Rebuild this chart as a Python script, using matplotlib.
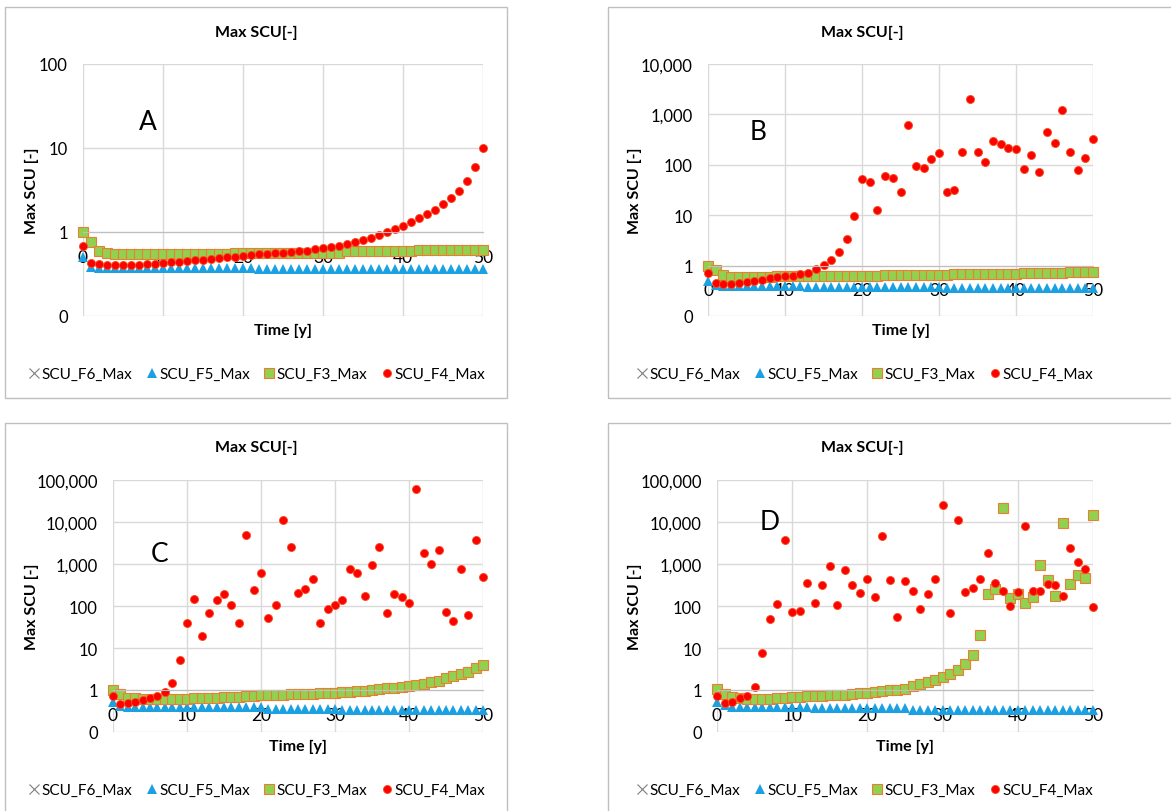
import matplotlib.pyplot as plt
from matplotlib.patches import Rectangle

plt.rcParams['font.family'] = ['Lato', 'DejaVu Sans']

W, H = 1171, 812
years = list(range(51))

# --- panel A ---
f5_a = [0.5, 0.38] + [0.37] * 20 + [0.365] * 21 + [0.36] * 8
f3_a = [1.0, 0.76, 0.59, 0.56] + [0.55] * 15 + [0.57] * 14 + [0.59] * 9 + [0.61] * 9
f4_a = [0.68, 0.43, 0.42, 0.41, 0.41, 0.41, 0.41, 0.41, 0.42, 0.42,
        0.43, 0.44, 0.44, 0.45, 0.46, 0.47, 0.48, 0.49, 0.50, 0.51,
        0.52, 0.53, 0.54, 0.55, 0.56, 0.57, 0.58, 0.59, 0.60, 0.62,
        0.64, 0.66, 0.69, 0.72, 0.76, 0.80, 0.86, 0.92, 1.0, 1.08,
        1.17, 1.3, 1.45, 1.62, 1.85, 2.15, 2.55, 3.1, 4.0, 5.9, 10.0]

# --- panel B ---
f5_b = [0.5, 0.41] + [0.39] * 11 + [0.37] * 18 + [0.355] * 20
f3_b = [1.0, 0.83, 0.65, 0.6, 0.6, 0.6, 0.6, 0.6, 0.6, 0.61,
        0.61, 0.61, 0.61, 0.62, 0.62, 0.62, 0.62, 0.62, 0.63, 0.63,
        0.63, 0.63, 0.63, 0.64, 0.64, 0.64, 0.65, 0.65, 0.65, 0.66,
        0.66, 0.66, 0.67, 0.67, 0.67, 0.68, 0.68, 0.68, 0.69, 0.69,
        0.69, 0.70, 0.70, 0.71, 0.71, 0.72, 0.72, 0.73, 0.73, 0.74, 0.75]
f4_b = [0.71, 0.45, 0.43, 0.43, 0.45, 0.47, 0.49, 0.52, 0.56, 0.59,
        0.61, 0.63, 0.67, 0.71, 0.86, 1.05, 1.3, 1.9, 3.3, 9.8,
        52, 45, 12.6, 60, 54, 29.5, 624, 93, 88, 130,
        170, 29, 32, 181, 2017, 178, 113, 290, 253, 213,
        204, 83, 153, 73, 453, 265, 1236, 181, 78, 138, 323]

# --- panel C ---
f5_c = [0.51, 0.42] + [0.39] * 19 + [0.36] * 10 + [0.33] * 20
f3_c = [1.0, 0.79, 0.66, 0.63, 0.6, 0.6, 0.6, 0.6, 0.61, 0.61,
        0.62, 0.63, 0.64, 0.65, 0.66, 0.67, 0.69, 0.70, 0.72, 0.73,
        0.75, 0.76, 0.77, 0.78, 0.79, 0.80, 0.81, 0.82, 0.83, 0.85,
        0.87, 0.89, 0.91, 0.94, 0.97, 1.0, 1.04, 1.09, 1.14, 1.2,
        1.27, 1.33, 1.4, 1.52, 1.67, 1.9, 2.15, 2.45, 2.75, 3.3, 3.95]
f4_c = [0.73, 0.46, 0.5, 0.51, 0.57, 0.63, 0.71, 0.91, 1.44, 5.3,
        40, 144, 19.3, 67, 139, 193, 106, 40, 4900, 240,
        600, 51, 106, 10960, 2540, 208, 254, 432, 38.6, 86,
        106, 141, 760, 620, 172, 930, 2580, 68, 196, 163,
        120, 60000, 1790, 980, 2190, 73, 45, 760, 62, 3650, 480]

# --- panel D ---
f5_d = [0.53, 0.44] + [0.4] * 11 + [0.37] * 13 + [0.33] * 25
f3_d = [1.05, 0.82, 0.68, 0.66, 0.61, 0.61, 0.61, 0.61, 0.63, 0.66,
        0.69, 0.70, 0.71, 0.72, 0.73, 0.74, 0.75, 0.78, 0.82, 0.85,
        0.86, 0.88, 0.96, 1.0, 1.02, 1.07, 1.25, 1.36, 1.52, 1.76,
        2.08, 2.36, 2.94, 4.08, 6.7, 20, 193, 254, 21000, 152,
        194, 116, 167, 930, 405, 176, 9300, 328, 545, 463, 15000]
f4_d = [0.73, 0.48, 0.53, 0.63, 0.73, 1.2, 7.5, 48, 109, 3650,
        72, 76, 361, 118, 325, 895, 104, 720, 325, 208,
        432, 162, 4550, 414, 56, 400, 228, 85, 193, 438,
        25400, 67, 10960, 215, 268, 432, 1860, 360, 232, 100,
        219, 8030, 232, 223, 328, 316, 173, 2450, 1140, 760, 93]

yticks_4 = [0.1, 1, 10, 100]
yticks_6 = [0.1, 1, 10, 100, 1000, 10000]
yticks_7 = [0.1, 1, 10, 100, 1000, 10000, 100000]
ylabels_all = ['0', '1', '10', '100', '1,000', '10,000', '100,000']

series_names = ['SCU_F6_Max', 'SCU_F5_Max', 'SCU_F3_Max', 'SCU_F4_Max']

fig = plt.figure(figsize=(W / 100, H / 100), dpi=100)


def fx(x):
    return x / W


def fy(y):
    return 1 - y / H


def draw_panel(box, plot, f5, f3, f4, yticks, letter, letter_xy,
               title_xy, xlabel_xy, ylabel_x, legend_xy):
    # outer chart frame
    l, t, r, b = box
    fig.patches.append(Rectangle((fx(l), fy(b)), fx(r - l), (b - t) / H,
                                 transform=fig.transFigure, fill=False,
                                 edgecolor='#BFBFBF', linewidth=1.0))
    l, t, r, b = plot
    ax = fig.add_axes([fx(l), fy(b), fx(r - l), (b - t) / H])
    ax.set_yscale('log')
    ax.set_xlim(0, 50)
    ax.set_ylim(yticks[0], yticks[-1])

    h6, = ax.plot([], [], 'x', color='#7F7F7F', markersize=7, markeredgewidth=0.8)
    h5, = ax.plot(years, f5, '^', linestyle='none', color='#1BA1E2',
                  markersize=7, markeredgewidth=0, clip_on=False)
    h3, = ax.plot(years, f3, 's', linestyle='none', markerfacecolor='#92D050',
                  markeredgecolor='#ED7D31', markeredgewidth=0.8, markersize=7.5,
                  clip_on=False)
    h4, = ax.plot(years, f4, 'o', linestyle='none', markerfacecolor='#FF0000',
                  markeredgecolor='#F4511E', markeredgewidth=0.6, markersize=5.8,
                  clip_on=False)

    ax.set_xticks([0, 10, 20, 30, 40, 50])
    ax.set_yticks(yticks)
    ax.set_yticklabels(ylabels_all[:len(yticks)])
    ax.minorticks_off()
    ax.grid(True, color='#D9D9D9', linewidth=1.0)
    ax.set_axisbelow(True)
    for s in ['top', 'right', 'left']:
        ax.spines[s].set_visible(False)
    ax.spines['bottom'].set_position(('data', 1))
    ax.spines['bottom'].set_color('#BFBFBF')
    ax.tick_params(axis='x', length=0, pad=12, labelsize=12.5)
    ax.tick_params(axis='y', length=0, pad=11, labelsize=12)

    fig.text(fx(letter_xy[0]), fy(letter_xy[1]), letter, fontsize=19,
             ha='center', va='center')
    fig.text(fx(title_xy[0]), fy(title_xy[1]), 'Max SCU[-]', fontsize=11.5,
             fontweight='bold', ha='center', va='center')
    fig.text(fx(xlabel_xy[0]), fy(xlabel_xy[1]), 'Time [y]', fontsize=11.5,
             fontweight='bold', ha='center', va='center')
    fig.text(fx(ylabel_x), fy((t + b) / 2), 'Max SCU [-]', fontsize=11.5,
             fontweight='bold', ha='center', va='center', rotation=90)
    fig.legend([h6, h5, h3, h4], series_names, loc='center',
               bbox_to_anchor=(fx(legend_xy[0]), fy(legend_xy[1])),
               ncol=4, frameon=False, fontsize=11, handlelength=0.7,
               handletextpad=0.15, columnspacing=0.9, borderpad=0)
    return ax


draw_panel((5, 8, 507, 399), (83, 65, 483, 317), f5_a, f3_a, f4_a, yticks_4,
           'A', (148, 122), (256, 33), (283, 331), 32, (257, 375))
draw_panel((608, 8, 1180, 399), (708, 65, 1093, 317), f5_b, f3_b, f4_b, yticks_6,
           'B', (758, 133), (862, 33), (901, 331), 635, (865, 375))
draw_panel((5, 424, 507, 820), (113, 481, 483, 733), f5_c, f3_c, f4_c, yticks_7,
           'C', (160, 555), (256, 448), (298, 747), 32, (257, 791))
draw_panel((608, 424, 1180, 820), (717, 481, 1093, 733), f5_d, f3_d, f4_d, yticks_7,
           'D', (770, 522), (862, 448), (905, 747), 635, (865, 791))

fig.savefig('out.png', dpi=100)
